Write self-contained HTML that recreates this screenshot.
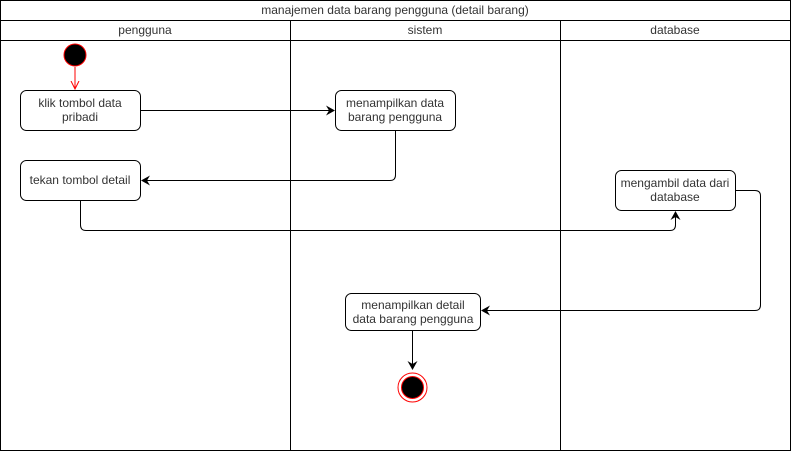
<!DOCTYPE html>
<html><head><style>body{margin:0;background:#fff}svg{display:block}</style></head><body>
<svg width="791" height="452" xmlns="http://www.w3.org/2000/svg" font-family="Liberation Sans, sans-serif" font-size="12" fill="#333">
<defs><marker id="a" markerWidth="10" markerHeight="10" refX="8" refY="5" orient="auto" markerUnits="userSpaceOnUse"><path d="M0,0 L9,5 L0,10 L3,5 Z" fill="#000"/></marker>
<marker id="r" markerWidth="10" markerHeight="10" refX="8" refY="5" orient="auto" markerUnits="userSpaceOnUse"><path d="M0,1 L8,5 L0,9" fill="none" stroke="#f00"/></marker></defs>
<g stroke="#000" fill="none">
<rect x="0.5" y="0.5" width="790" height="450"/>
<line x1="0" y1="20.5" x2="791" y2="20.5"/>
<line x1="0" y1="40.5" x2="791" y2="40.5"/>
<line x1="290.5" y1="20" x2="290.5" y2="451"/>
<line x1="560.5" y1="20" x2="560.5" y2="451"/>
</g>
<text x="395" y="14" text-anchor="middle">manajemen data barang pengguna (detail barang)</text>
<text x="145" y="34" text-anchor="middle">pengguna</text>
<text x="425" y="34" text-anchor="middle">sistem</text>
<text x="675" y="34" text-anchor="middle">database</text>
<circle cx="75" cy="55" r="11" fill="#000" stroke="#f00"/>
<line x1="75" y1="67" x2="75" y2="89" stroke="#f00" marker-end="url(#r)"/>
<g stroke="#000" fill="#fff">
<rect x="20.5" y="90.5" width="120" height="40" rx="6"/>
<rect x="335.5" y="90.5" width="120" height="40" rx="6"/>
<rect x="20.5" y="160.5" width="120" height="40" rx="6"/>
<rect x="615.5" y="170.5" width="120" height="40" rx="6"/>
<rect x="345.5" y="293.5" width="135" height="37" rx="6"/>
</g>
<g stroke="#000" fill="none">
<path d="M140,110.5 H334" marker-end="url(#a)"/>
<path d="M395.5,130 V175 Q395.5,180.5 390,180.5 H142" marker-end="url(#a)"/>
<path d="M80.5,200 V225 Q80.5,230.5 86,230.5 H670 Q675.5,230.5 675.5,225 V212" marker-end="url(#a)"/>
<path d="M736,190.5 H755 Q760.5,190.5 760.5,196 V305 Q760.5,310.5 755,310.5 H482" marker-end="url(#a)"/>
<path d="M412.5,331 V369" marker-end="url(#a)"/>
</g>
<circle cx="412.5" cy="387.5" r="14.5" fill="#fff" stroke="#f00"/>
<circle cx="412.5" cy="387.5" r="11" fill="#000" stroke="#f00"/>
<g text-anchor="middle">
<text x="80" y="107">klik tombol data</text><text x="80" y="121">pribadi</text>
<text x="395" y="107">menampilkan data</text><text x="395" y="121">barang pengguna</text>
<text x="80" y="184">tekan tombol detail</text>
<text x="675" y="187">mengambil data dari</text><text x="675" y="201">database</text>
<text x="413" y="309">menampilkan detail</text><text x="413" y="323">data barang pengguna</text>
</g>
</svg>
</body></html>
